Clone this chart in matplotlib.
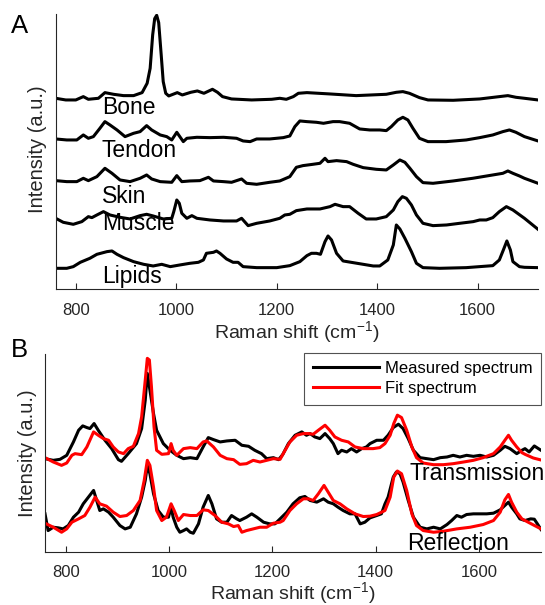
import matplotlib
matplotlib.use('Agg')
import matplotlib.pyplot as plt

plt.rcParams['font.family'] = ['Liberation Sans', 'DejaVu Sans']
plt.rcParams['mathtext.fontset'] = 'custom'
plt.rcParams['mathtext.rm'] = 'Liberation Sans'
plt.rcParams['mathtext.default'] = 'regular'

# ---- Panel A: stacked tissue spectra (a.u.) ----
bone_x = [760, 780, 800, 815, 825, 845, 858, 875, 895, 915, 932, 942, 948, 953, 957,
          961, 965, 970, 974, 979, 985, 1002, 1012, 1029, 1042, 1055, 1072, 1082, 1092,
          1110, 1150, 1190, 1206, 1219, 1233, 1243, 1260, 1306, 1358, 1418, 1438, 1451,
          1464, 1484, 1501, 1551, 1604, 1643, 1660, 1676, 1693, 1720]
bone_y = [573, 568, 568, 578, 570, 573, 590, 585, 581, 581, 590, 618, 663, 763, 812,
          822, 800, 703, 623, 588, 580, 590, 583, 591, 595, 588, 600, 591, 578,
          571, 568, 570, 573, 570, 578, 588, 590, 586, 581, 585, 591, 593,
          588, 575, 568, 567, 571, 578, 581, 576, 573, 568]

tendon_x = [760, 782, 802, 815, 825, 835, 848, 858, 868, 882, 898, 915, 928, 941, 951,
            968, 981, 991, 1001, 1007, 1014, 1021, 1041, 1067, 1094, 1120, 1133, 1147,
            1160, 1186, 1213, 1226, 1236, 1246, 1260, 1279, 1293, 1312, 1325, 1345, 1365,
            1385, 1405, 1418, 1428, 1441, 1451, 1461, 1471, 1484, 1501, 1537, 1577, 1604,
            1630, 1650, 1663, 1676, 1693, 1720]
tendon_y = [451, 448, 448, 463, 453, 458, 483, 503, 493, 478, 458, 468, 473, 491, 478,
            463, 458, 448, 471, 458, 443, 453, 456, 455, 456, 453, 445, 443,
            451, 451, 455, 460, 488, 505, 503, 501, 498, 503, 503, 498, 481,
            478, 478, 476, 488, 508, 516, 508, 483, 453, 443, 443, 448, 455,
            463, 473, 478, 471, 458, 445]

skin_x = [760, 782, 802, 815, 825, 842, 858, 872, 888, 908, 928, 941, 951, 968, 991,
          1001, 1011, 1027, 1047, 1064, 1074, 1094, 1110, 1130, 1140, 1160, 1186, 1206,
          1226, 1239, 1252, 1272, 1286, 1296, 1302, 1319, 1339, 1352, 1372, 1398, 1418,
          1432, 1445, 1455, 1465, 1478, 1491, 1511, 1551, 1590, 1630, 1650, 1660, 1670,
          1683, 1693, 1720]
skin_y = [326, 323, 323, 333, 326, 338, 363, 348, 328, 323, 333, 343, 331, 323, 321,
          341, 323, 325, 326, 336, 325, 323, 321, 331, 318, 315, 321, 325,
          338, 366, 371, 375, 378, 393, 383, 386, 383, 375, 365, 360, 358,
          373, 388, 381, 363, 338, 320, 318, 325, 333, 343, 348, 355, 348,
          340, 333, 318]

muscle_x = [760, 775, 795, 812, 825, 832, 842, 855, 868, 888, 908, 928, 941, 954, 974,
            991, 995, 1001, 1006, 1011, 1021, 1031, 1041, 1067, 1094, 1120, 1130, 1143,
            1160, 1186, 1206, 1216, 1226, 1239, 1260, 1286, 1306, 1316, 1332, 1345, 1362,
            1378, 1398, 1418, 1432, 1441, 1450, 1458, 1468, 1478, 1491, 1511, 1538, 1564,
            1591, 1604, 1617, 1630, 1643, 1657, 1670, 1693, 1720]
muscle_y = [213, 201, 195, 203, 218, 215, 223, 233, 223, 216, 211, 221, 225, 220, 211,
            213, 233, 268, 258, 228, 213, 221, 213, 208, 205, 205, 213, 191,
            198, 205, 213, 223, 225, 236, 241, 241, 248, 255, 248, 248, 228,
            211, 211, 218, 238, 263, 278, 273, 253, 223, 198, 191, 193, 198,
            203, 208, 208, 215, 233, 248, 238, 213, 180]

lipids_x = [760, 782, 795, 809, 828, 842, 862, 872, 882, 895, 915, 935, 954, 971, 988,
            1007, 1027, 1044, 1054, 1060, 1074, 1080, 1087, 1100, 1113, 1123, 1133, 1160,
            1200, 1226, 1246, 1260, 1269, 1279, 1287, 1296, 1302, 1309, 1319, 1332, 1352,
            1372, 1392, 1405, 1421, 1432, 1438, 1445, 1455, 1468, 1478, 1491, 1524, 1577,
            1630, 1643, 1651, 1658, 1665, 1670, 1683, 1693, 1720]
lipids_y = [63, 63, 68, 81, 93, 105, 113, 115, 105, 95, 83, 75, 70, 75, 68,
            73, 78, 81, 88, 108, 111, 115, 108, 91, 81, 81, 68, 65,
            65, 71, 83, 101, 108, 108, 105, 143, 160, 148, 108, 85, 80,
            75, 70, 70, 88, 133, 193, 181, 153, 113, 78, 65, 63, 65,
            71, 88, 118, 145, 118, 83, 68, 66, 65]

tissue_names = ['Bone', 'Tendon', 'Skin', 'Muscle', 'Lipids']
tissue_label_y = [525, 398, 260, 178, 20]

# ---- Panel B: measured vs fitted spectra, transmission and reflection ----
trans_meas_x = [760, 776, 789, 802, 815, 825, 833, 841, 847, 855, 863, 876, 889, 902, 908,
                921, 937, 947, 954, 958, 963, 970, 976, 989, 1002, 1015, 1028, 1041, 1054,
                1066, 1076, 1086, 1099, 1112, 1128, 1141, 1154, 1166, 1179, 1189, 1202, 1212,
                1220, 1231, 1244, 1257, 1266, 1273, 1282, 1292, 1302, 1311, 1318, 1327, 1334,
                1344, 1353, 1363, 1373, 1382, 1389, 1402, 1415, 1424, 1434, 1444, 1453, 1463,
                1473, 1486, 1499, 1512, 1525, 1538, 1550, 1563, 1576, 1589, 1602, 1615, 1628,
                1641, 1650, 1660, 1673, 1683, 1689, 1697, 1707, 1720]
trans_meas_y = [280, 275, 278, 290, 330, 365, 378, 373, 370, 385, 365, 335, 310, 277, 272,
                295, 325, 370, 455, 535, 485, 415, 365, 325, 305, 290, 280, 283, 280,
                315, 343, 337, 330, 333, 335, 320, 317, 305, 295, 280, 283, 277,
                292, 325, 350, 360, 350, 355, 345, 340, 355, 340, 325, 295, 305,
                300, 310, 300, 310, 315, 325, 335, 335, 350, 373, 383, 370, 340,
                305, 283, 280, 277, 283, 285, 290, 285, 290, 287, 290, 285, 290,
                305, 317, 310, 295, 305, 310, 300, 318, 305]

trans_fit_x = [760, 776, 792, 802, 812, 818, 831, 841, 854, 863, 873, 883, 892, 902, 912,
               921, 931, 941, 947, 954, 958, 962, 966, 971, 976, 986, 999, 1004, 1008, 1015,
               1028, 1041, 1054, 1066, 1073, 1086, 1099, 1112, 1125, 1137, 1150, 1163, 1176,
               1189, 1202, 1215, 1221, 1234, 1247, 1260, 1270, 1279, 1289, 1302, 1311, 1321,
               1334, 1347, 1360, 1376, 1395, 1408, 1418, 1428, 1435, 1442, 1450, 1460, 1470,
               1479, 1492, 1512, 1531, 1550, 1570, 1589, 1608, 1628, 1641, 1650, 1657, 1663,
               1673, 1683, 1689, 1705, 1720]
trans_fit_y = [283, 270, 260, 267, 290, 295, 292, 315, 360, 350, 340, 335, 315, 300, 295,
               310, 317, 355, 405, 515, 580, 575, 495, 375, 305, 293, 295, 325, 305, 290,
               310, 313, 310, 330, 333, 315, 290, 280, 277, 263, 265, 275, 270,
               275, 280, 278, 295, 330, 350, 355, 355, 353, 365, 380, 365, 345,
               335, 330, 315, 310, 310, 313, 325, 350, 385, 410, 403, 365, 315,
               283, 267, 262, 262, 265, 270, 275, 283, 295, 315, 335, 350, 335,
               315, 298, 293, 282, 276]

refl_meas_x = [760, 766, 776, 786, 795, 805, 815, 825, 834, 844, 854, 860, 866, 873, 883,
               892, 905, 915, 925, 937, 947, 954, 958, 963, 970, 979, 989, 999, 1004, 1008,
               1015, 1021, 1028, 1034, 1041, 1047, 1057, 1066, 1076, 1083, 1092, 1102, 1112,
               1121, 1131, 1137, 1150, 1160, 1170, 1183, 1195, 1205, 1215, 1228, 1240, 1253,
               1263, 1273, 1286, 1299, 1308, 1318, 1327, 1337, 1350, 1360, 1370, 1379, 1389,
               1402, 1411, 1418, 1424, 1434, 1440, 1447, 1453, 1463, 1473, 1486, 1499, 1512,
               1525, 1538, 1547, 1557, 1566, 1576, 1589, 1602, 1615, 1628, 1641, 1650, 1657,
               1663, 1673, 1679, 1689, 1700, 1707, 1713, 1720]
refl_meas_y = [115, 65, 75, 73, 70, 80, 105, 120, 145, 165, 185, 155, 125, 130, 120,
               105, 80, 70, 75, 115, 165, 215, 260, 235, 175, 125, 105, 105, 135, 105,
               75, 60, 65, 70, 60, 57, 85, 135, 170, 145, 100, 90, 90,
               110, 100, 95, 105, 115, 105, 90, 85, 85, 100, 120, 145, 163,
               167, 155, 150, 160, 150, 145, 135, 125, 115, 115, 85, 90, 103,
               110, 115, 145, 165, 225, 240, 235, 210, 155, 105, 75, 70, 75,
               70, 83, 95, 110, 105, 113, 115, 115, 115, 117, 127, 140, 150,
               135, 115, 100, 95, 100, 99, 85, 68]

refl_fit_x = [760, 776, 792, 802, 812, 825, 837, 847, 857, 866, 879, 892, 905, 918, 931,
              944, 952, 958, 963, 970, 976, 986, 995, 1004, 1010, 1018, 1028, 1041, 1054,
              1066, 1076, 1089, 1102, 1115, 1125, 1134, 1141, 1150, 1163, 1176, 1189, 1202,
              1215, 1221, 1234, 1247, 1260, 1270, 1279, 1289, 1300, 1308, 1318, 1331, 1344,
              1360, 1376, 1389, 1402, 1418, 1428, 1435, 1442, 1450, 1460, 1470, 1479, 1492,
              1512, 1531, 1557, 1583, 1608, 1628, 1641, 1650, 1657, 1663, 1673, 1683, 1689,
              1705, 1720]
refl_fit_y = [87, 75, 60, 70, 90, 100, 110, 135, 165, 145, 138, 120, 107, 110, 125,
              155, 215, 275, 260, 195, 125, 95, 105, 145, 125, 95, 113, 110, 110,
              127, 125, 110, 90, 85, 77, 80, 60, 65, 70, 75, 75, 87,
              90, 95, 125, 145, 160, 160, 155, 175, 200, 180, 155, 145, 130,
              115, 107, 108, 113, 125, 165, 225, 243, 235, 185, 115, 80, 65,
              60, 63, 70, 75, 83, 95, 120, 157, 173, 150, 120, 100, 95,
              82, 70]

tick_values = [800, 1000, 1200, 1400, 1600]
axis_grey = '#262626'


def style_axes(ax, ymax, tick_pad, label_pad):
    ax.set_xlim(760, 1720)
    ax.set_ylim(0, ymax)
    ax.spines['top'].set_visible(False)
    ax.spines['right'].set_visible(False)
    for side in ['left', 'bottom']:
        ax.spines[side].set_color(axis_grey)
        ax.spines[side].set_linewidth(0.8)
    ax.set_yticks([])
    ax.set_xticks(tick_values)
    ax.tick_params(axis='x', direction='in', length=4, width=0.8, color=axis_grey,
                   labelsize=12, labelcolor=axis_grey, pad=tick_pad)
    ax.set_xlabel(r'Raman shift (cm$^{-1}$)', fontsize=14, color=axis_grey,
                  labelpad=label_pad)
    ax.set_ylabel('Intensity (a.u.)', fontsize=14.5, color=axis_grey)


fig = plt.figure(figsize=(5.45, 6.05), dpi=100)

# Panel A
axA = fig.add_axes([0.1022, 0.5218, 0.885, 0.4546])
tissues = [(bone_x, bone_y), (tendon_x, tendon_y), (skin_x, skin_y),
           (muscle_x, muscle_y), (lipids_x, lipids_y)]
for (xs, ys), name, ly in zip(tissues, tissue_names, tissue_label_y):
    axA.plot(xs, ys, color='black', linewidth=2.2)
    axA.text(852, ly, name, fontsize=16.5, ha='left', va='baseline')
style_axes(axA, 825, 10, 1)
axA.yaxis.set_label_coords(-0.019, 0.509)

# Panel B
axB = fig.add_axes([0.0826, 0.0871, 0.9101, 0.3278])
axB.plot(trans_meas_x, trans_meas_y, color='black', linewidth=2.2, label='Measured spectrum')
axB.plot(trans_fit_x, trans_fit_y, color='red', linewidth=2.2, label='Fit spectrum')
axB.plot(refl_meas_x, refl_meas_y, color='black', linewidth=2.2)
axB.plot(refl_fit_x, refl_fit_y, color='red', linewidth=2.2)
axB.text(1465, 217, 'Transmission', fontsize=16.5, ha='left', va='baseline')
axB.text(1460, 7, 'Reflection', fontsize=16.5, ha='left', va='baseline')
style_axes(axB, 593, 9, 0)
axB.yaxis.set_label_coords(-0.017, 0.5)

leg = axB.legend(loc='upper right', bbox_to_anchor=(1.0, 1.005), fontsize=12,
                 frameon=True, fancybox=False, borderpad=0.5, handlelength=4.0,
                 handletextpad=0.35, labelspacing=0.3, borderaxespad=0)
leg.get_frame().set_edgecolor(axis_grey)
leg.get_frame().set_linewidth(0.8)
for line in leg.get_lines():
    line.set_linewidth(2.2)

fig.text(0.02, 1 - 33.3 / 605, 'A', fontsize=18.5, va='baseline')
fig.text(0.02, 1 - 356.7 / 605, 'B', fontsize=18.5, va='baseline')

plt.savefig('out.png', dpi=100)
